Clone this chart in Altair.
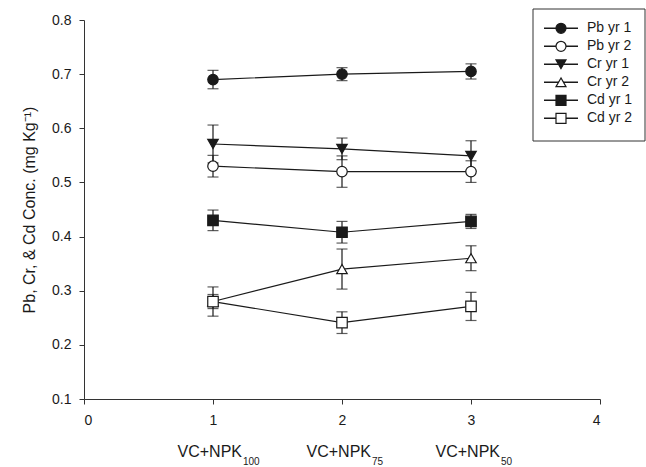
import altair as alt
import pandas as pd

# ---- data ----
series = ["Pb yr 1", "Pb yr 2", "Cr yr 1", "Cr yr 2", "Cd yr 1", "Cd yr 2"]
x_pos = [1, 2, 3]
pb1 = [0.690, 0.700, 0.705]
pb1_err = [0.017, 0.012, 0.014]
pb2 = [0.530, 0.520, 0.520]
pb2_err = [0.020, 0.029, 0.020]
cr1 = [0.571, 0.562, 0.549]
cr1_err = [0.035, 0.020, 0.028]
cr2 = [0.280, 0.340, 0.360]
cr2_err = [0.027, 0.037, 0.023]
cd1 = [0.430, 0.408, 0.428]
cd1_err = [0.019, 0.020, 0.013]
cd2 = [0.280, 0.241, 0.271]
cd2_err = [0.013, 0.020, 0.026]

treat_main = ["VC+NPK", "VC+NPK", "VC+NPK"]
treat_sub = ["100", "75", "50"]

shapes = ["circle", "circle", "triangle-down", "triangle-up", "square", "square"]
fills = ["#1a1a1a", "white", "#1a1a1a", "white", "#1a1a1a", "white"]

values = [pb1, pb2, cr1, cr2, cd1, cd2]
errors = [pb1_err, pb2_err, cr1_err, cr2_err, cd1_err, cd2_err]

rows = []
for s, vals, errs in zip(series, values, errors):
    for xv, v, e in zip(x_pos, vals, errs):
        rows.append({"series": s, "x": xv, "y": v, "lo": v - e, "hi": v + e})
df = pd.DataFrame(rows)

treat_df = pd.DataFrame({"x": x_pos, "label": treat_main, "sub": treat_sub})
legend_df = pd.DataFrame({"series": series, "idx": list(range(len(series)))})

FONT = "Liberation Sans"
INK = "#1a1a1a"

shape_enc = alt.Shape("series:N", scale=alt.Scale(domain=series, range=shapes), legend=None)
fill_enc = alt.Fill("series:N", scale=alt.Scale(domain=series, range=fills), legend=None)

x_enc = alt.X(
    "x:Q",
    scale=alt.Scale(domain=[0, 4], nice=False, zero=False),
    axis=alt.Axis(values=[0, 1, 2, 3, 4], format="d", title=None, grid=False,
                  tickSize=5, labelPadding=9),
)
y_enc = alt.Y(
    "y:Q",
    scale=alt.Scale(domain=[0.1, 0.8], nice=False, zero=False),
    axis=alt.Axis(values=[0.1, 0.2, 0.3, 0.4, 0.5, 0.6, 0.7, 0.8], format=".1f",
                  title="Pb, Cr, & Cd Conc. (mg Kg\u207b\u00b9)", grid=False,
                  tickSize=5, labelPadding=8, titlePadding=14),
)

base = alt.Chart(df)
lines = base.mark_line(color=INK, strokeWidth=1.2).encode(x=x_enc, y=y_enc, detail="series:N")
err_rule = base.mark_rule(color=INK, strokeWidth=1.2).encode(x="x:Q", y="lo:Q", y2="hi:Q")
cap_lo = base.mark_tick(orient="horizontal", size=11, thickness=1.2, color=INK).encode(x="x:Q", y="lo:Q")
cap_hi = base.mark_tick(orient="horizontal", size=11, thickness=1.2, color=INK).encode(x="x:Q", y="hi:Q")
points = base.mark_point(filled=True, size=110, stroke=INK, strokeWidth=1.2, opacity=1).encode(
    x="x:Q", y="y:Q", shape=shape_enc, fill=fill_enc
)

tbase = alt.Chart(treat_df)
treat_text = tbase.mark_text(align="right", baseline="middle", dx=29, fontSize=16, font=FONT, color=INK).encode(
    x="x:Q", y=alt.value(432), text="label:N"
)
treat_subtext = tbase.mark_text(align="left", baseline="middle", dx=30, fontSize=10, font=FONT, color=INK).encode(
    x="x:Q", y=alt.value(442), text="sub:N"
)

main = alt.layer(lines, err_rule, cap_lo, cap_hi, points, treat_text, treat_subtext)

lbase = alt.Chart(legend_df).transform_calculate(ly="8.3 + 18 * datum.idx")
ly = alt.Y("ly:Q", scale=None, axis=None)
leg_box = lbase.transform_filter("datum.idx == 0").mark_rect(
    fill="white", fillOpacity=0, stroke="#333333", strokeWidth=1
).encode(x=alt.value(449), x2=alt.value(561), y=alt.value(-11), y2=alt.value(121))
leg_line = lbase.mark_rule(color=INK, strokeWidth=1.4).encode(x=alt.value(460), x2=alt.value(494), y=ly)
leg_pts = lbase.mark_point(filled=True, size=100, stroke=INK, strokeWidth=1.2, opacity=1).encode(
    x=alt.value(477), y=ly, shape=shape_enc, fill=fill_enc
)
leg_text = lbase.mark_text(align="left", baseline="middle", fontSize=14, font=FONT, color=INK).encode(
    x=alt.value(503), y=ly, text="series:N"
)
legend = alt.layer(leg_box, leg_line, leg_pts, leg_text)

chart = (
    alt.layer(main, legend)
    .resolve_scale(x="independent", y="independent")
    .properties(
        width=516, height=379, autosize="none", background="white",
        padding={"left": 84, "top": 20, "right": 46, "bottom": 68},
    )
    .configure_view(stroke=None)
    .configure_axis(
        domainColor="#333333", tickColor="#333333", labelColor=INK, titleColor=INK,
        labelFont=FONT, titleFont=FONT, labelFontSize=14, titleFontSize=16,
        titleFontWeight="normal", domainWidth=1, tickWidth=1,
    )
)

chart.save("out.html", embed_options={"renderer": "svg", "actions": False})
